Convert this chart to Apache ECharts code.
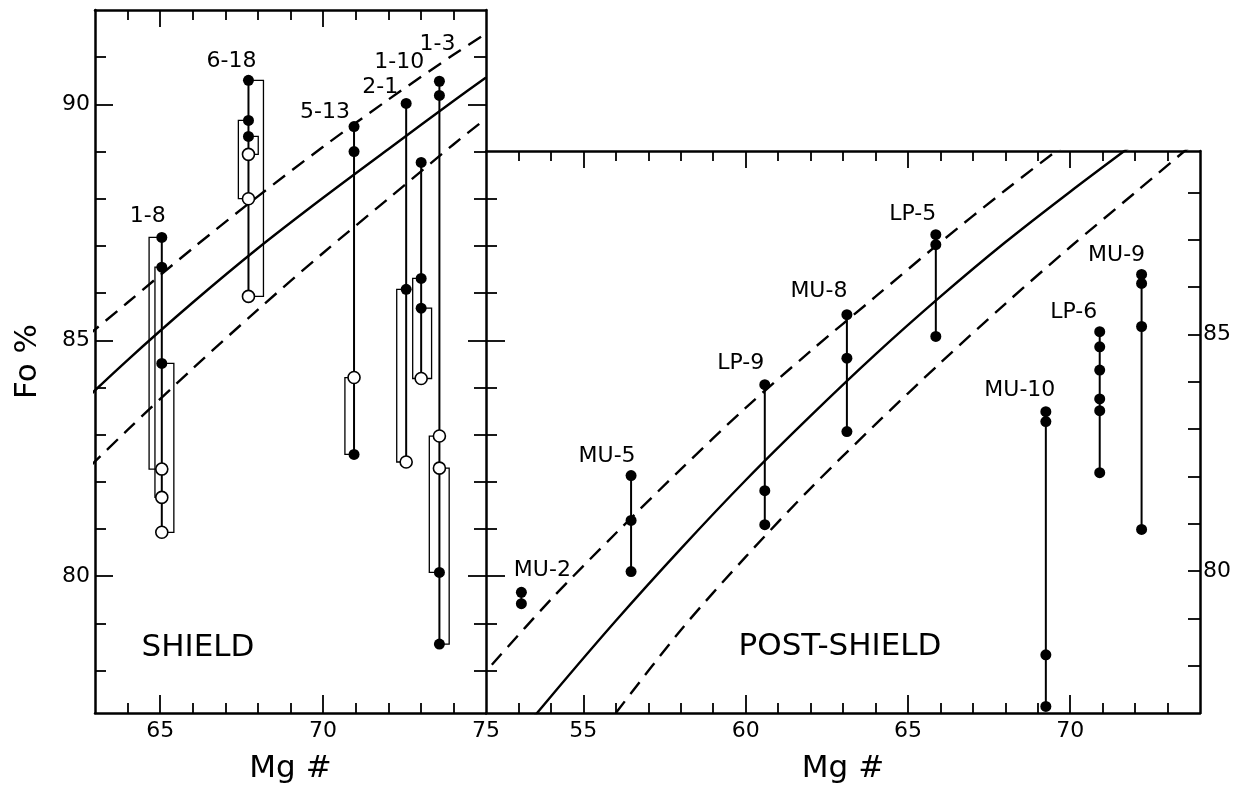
<!DOCTYPE html>
<html>
<head>
<meta charset="utf-8">
<script src="https://cdn.jsdelivr.net/npm/echarts@6/dist/echarts.min.js"></script>
<style>
  html, body { margin: 0; padding: 0; background: #fff; }
  #chart { width: 1243px; height: 788px; }
</style>
</head>
<body>
<div id="chart"></div>
<script>
// ---- Shield-stage lavas: olivine Fo vs host Mg# ----
const shieldSamples = ['1-8', '6-18', '5-13', '2-1', '1-10', '1-3'];
const shieldMg = [65.05, 67.71, 70.95, 72.55, 73.01, 73.57];
// filled symbols (olivine cores)
const shieldFoFilled = [
  [87.18, 86.55, 84.51],
  [90.51, 89.66, 89.32],
  [89.53, 89.00, 82.58],
  [90.02, 86.08],
  [88.77, 86.31, 85.68],
  [90.49, 90.19, 80.08, 78.56]
];
// open symbols (olivine rims)
const shieldFoOpen = [
  [82.27, 81.67, 80.93],
  [88.94, 88.00, 85.93],
  [84.21],
  [82.42],
  [84.19],
  [82.97, 82.29]
];
// core-rim brackets: [Mg# of bracket edge, Fo top, Fo bottom]
const shieldBrackets = [
  [[64.66, 87.18, 82.27], [64.84, 86.55, 81.67], [65.42, 84.51, 80.93]],
  [[67.40, 89.66, 88.00], [68.01, 89.32, 88.94], [68.17, 90.51, 85.93]],
  [[70.67, 84.21, 82.58]],
  [[72.26, 86.08, 82.42]],
  [[72.75, 86.31, 84.19], [73.33, 85.68, 84.19]],
  [[73.26, 82.97, 80.08], [73.87, 82.29, 78.56]]
];

// ---- Post-shield lavas ----
const postSamples = ['MU-2', 'MU-5', 'LP-9', 'MU-8', 'LP-5', 'MU-10', 'LP-6', 'MU-9'];
const postMg = [53.09, 56.47, 60.59, 63.12, 65.86, 69.25, 70.91, 72.20];
const postFo = [
  [79.55, 79.31],
  [82.02, 81.07, 79.99],
  [83.94, 81.70, 80.98],
  [85.42, 84.50, 82.95],
  [87.11, 86.90, 84.96],
  [83.37, 83.16, 78.23, 77.14],
  [85.06, 84.74, 84.25, 83.64, 83.39, 82.08],
  [86.27, 86.08, 85.17, 80.88]
];

// ---- Olivine-liquid equilibrium curve and its upper / lower bounds (shared by both panels) ----
const eqMg = [52, 54, 56, 58, 60, 62, 64, 66, 68, 70, 72, 74, 75];
const eqFo = [75.70, 77.35, 78.95, 80.47, 81.92, 83.28, 84.58, 85.80, 86.95, 88.02, 89.05, 90.07, 90.57];
const upMg = [52.18, 54, 56, 58, 60, 62, 64, 66, 68, 70, 72, 74, 75];
const upFo = [78.02, 79.40, 80.80, 82.15, 83.45, 84.65, 85.80, 86.95, 88.05, 89.10, 90.10, 91.05, 91.50];
const loMg = [56, 58, 60, 62, 64, 66, 68, 70, 72, 74, 75];
const loFo = [77.00, 78.75, 80.30, 81.75, 83.10, 84.40, 85.65, 86.85, 88.00, 89.15, 89.70];

// ---- Axis ticks ----
const shieldMgMajor = [65, 70];
const shieldMgMinor = [64, 66, 67, 68, 69, 71, 72, 73, 74];
const shieldMgLabels = [65, 70, 75];
const shieldFoMajor = [80, 85, 90];
const shieldFoMinor = [78, 79, 81, 82, 83, 84, 86, 87, 88, 89, 91];
const sharedFoMajor = [80, 85];
const sharedFoMinor = [78, 79, 81, 82, 83, 84, 86, 87, 88];
const postMgMajor = [55, 60, 65, 70];
const postMgMinor = [53, 54, 56, 57, 58, 59, 61, 62, 63, 64, 66, 67, 68, 69, 71, 72, 73];
const postFoMajor = [80, 85];
const postFoMinor = [78, 79, 81, 82, 83, 84, 86, 87, 88];

// ---- Styling (label placement relative to the top symbol, in px) ----
const FONT = '"DejaVu Sans", "Liberation Sans", sans-serif';
const labelOffsets = {
  '1-8': [-14, -21], '6-18': [-17, -19], '5-13': [-29, -14], '2-1': [-26, -16],
  '1-10': [-22, -100], '1-3': [-2, -37],
  'MU-2': [21, -22], 'MU-5': [-24, -19], 'LP-9': [-24, -21], 'MU-8': [-28, -23],
  'LP-5': [-23, -20], 'MU-10': [-26, -21], 'LP-6': [-26, -19], 'MU-9': [-25, -19]
};
const stemWidths = { '1-3': 1.3 };
const FRAME_W = 2.5;
const TICK_W = 1.8;

const SH = { min: 63, max: 75, fmin: 77.1, fmax: 92.0 };
const PS = { min: 52, max: 74, fmin: 77.0, fmax: 88.88 };

function axis(grid, pos, min, max, ticks, len, opts) {
  opts = opts || {};
  const a = {
    type: 'value', gridIndex: grid, position: pos, min: min, max: max,
    splitLine: { show: false },
    axisLine: { show: !!opts.line, onZero: false, lineStyle: { color: '#000', width: FRAME_W } },
    axisTick: {
      show: true, inside: !opts.outside, length: len, customValues: ticks,
      lineStyle: { color: '#000', width: TICK_W }
    },
    axisLabel: { show: false }
  };
  if (opts.labels) {
    a.axisLabel = {
      show: true, customValues: opts.labels, margin: opts.margin,
      color: '#000', fontFamily: FONT, fontSize: 22
    };
  }
  if (opts.name) {
    a.name = opts.name;
    a.nameLocation = 'middle';
    a.nameGap = opts.nameGap;
    a.nameRotate = opts.nameRotate || 0;
    a.nameTextStyle = { color: '#000', fontFamily: FONT, fontSize: opts.nameSize };
  }
  return a;
}

const xAxes = [
  // shield panel (grid 0): indices 0..3
  axis(0, 'bottom', SH.min, SH.max, shieldMgMajor, 18,
       { line: true, labels: shieldMgLabels, margin: 7, name: 'Mg #', nameGap: 40, nameSize: 31 }),
  axis(0, 'bottom', SH.min, SH.max, shieldMgMinor, 10),
  axis(0, 'top', SH.min, SH.max, shieldMgMajor, 17, { line: true }),
  axis(0, 'top', SH.min, SH.max, shieldMgMinor, 10),
  // post-shield panel (grid 1): indices 4..7
  axis(1, 'bottom', PS.min, PS.max, postMgMajor, 18,
       { line: true, labels: postMgMajor, margin: 7, name: 'Mg #', nameGap: 40, nameSize: 31 }),
  axis(1, 'bottom', PS.min, PS.max, postMgMinor, 10),
  axis(1, 'top', PS.min, PS.max, postMgMajor, 17, { line: true }),
  axis(1, 'top', PS.min, PS.max, postMgMinor, 10)
];

const yAxes = [
  // shield panel (grid 0): indices 0..5
  axis(0, 'left', SH.fmin, SH.fmax, shieldFoMajor, 18,
       { line: true, labels: shieldFoMajor, margin: 5, name: 'Fo %', nameGap: 52, nameRotate: 90, nameSize: 31 }),
  axis(0, 'left', SH.fmin, SH.fmax, shieldFoMinor, 11),
  axis(0, 'right', SH.fmin, SH.fmax, shieldFoMajor, 18, { line: true }),
  axis(0, 'right', SH.fmin, SH.fmax, shieldFoMinor, 12),
  // shared border: shield Fo scale ticks reaching into the post-shield panel
  axis(0, 'right', SH.fmin, SH.fmax, sharedFoMajor, 19, { outside: true }),
  axis(0, 'right', SH.fmin, SH.fmax, sharedFoMinor, 11, { outside: true }),
  // post-shield panel (grid 1): indices 6..7
  axis(1, 'right', PS.fmin, PS.fmax, postFoMajor, 12,
       { line: true, labels: postFoMajor, margin: 3 }),
  axis(1, 'right', PS.fmin, PS.fmax, postFoMinor, 12)
];
yAxes[6].axisLabel.align = 'left';

function pairs(xs, ys) { return xs.map((x, i) => [x, ys[i]]); }

function stemData(names, mgs, groups) {
  return names.map((n, i) => {
    const all = groups.map(g => g[i]).flat();
    return { name: n, value: [mgs[i], Math.max(...all), Math.min(...all)] };
  });
}

function pointData(mgs, fos) {
  const out = [];
  mgs.forEach((m, i) => fos[i].forEach(f => out.push([m, f])));
  return out;
}

function labelData(names, mgs, groups) {
  return names.map((n, i) => {
    const all = groups.map(g => g[i]).flat();
    return {
      name: n, value: [mgs[i], Math.max(...all)],
      label: { offset: labelOffsets[n] }
    };
  });
}

function bracketData() {
  const out = [];
  shieldBrackets.forEach((list, i) => list.forEach(b => out.push([shieldMg[i], b[0], b[1], b[2]])));
  return out;
}

function renderStem(params, api) {
  const a = api.coord([api.value(0), api.value(1)]);
  const b = api.coord([api.value(0), api.value(2)]);
  const w = stemWidths[params.data && params.data.name] || 2;
  return {
    type: 'line',
    shape: { x1: a[0], y1: a[1], x2: b[0], y2: b[1] },
    style: { stroke: '#000', lineWidth: w }
  };
}

function renderBracket(params, api) {
  const x0 = api.value(0), x1 = api.value(1), top = api.value(2), bot = api.value(3);
  const pts = [api.coord([x0, top]), api.coord([x1, top]), api.coord([x1, bot]), api.coord([x0, bot])];
  return {
    type: 'polyline',
    shape: { points: pts },
    style: { stroke: '#000', lineWidth: 1.3, fill: null }
  };
}

function curve(xi, yi, data, dashed) {
  return {
    type: 'line', xAxisIndex: xi, yAxisIndex: yi, data: data,
    showSymbol: false, symbol: 'none', smooth: 0.3, clip: true, silent: true,
    lineStyle: { color: '#000', width: 2.4, type: dashed ? [15, 9] : 'solid' },
    z: 1
  };
}

const labelStyle = {
  show: true, position: 'inside', formatter: '{b}',
  color: '#000', fontFamily: FONT, fontSize: 22
};

const series = [
  // shield panel
  curve(0, 0, pairs(eqMg, eqFo), false),
  curve(0, 0, pairs(upMg, upFo), true),
  curve(0, 0, pairs(loMg, loFo), true),
  {
    type: 'custom', xAxisIndex: 0, yAxisIndex: 0, renderItem: renderBracket,
    data: bracketData(), encode: { x: [0, 1], y: [2, 3] }, silent: true, z: 2
  },
  {
    type: 'custom', xAxisIndex: 0, yAxisIndex: 0, renderItem: renderStem,
    data: stemData(shieldSamples, shieldMg, [shieldFoFilled, shieldFoOpen]),
    encode: { x: 0, y: [1, 2] }, silent: true, z: 3
  },
  {
    type: 'scatter', xAxisIndex: 0, yAxisIndex: 0, symbol: 'circle', symbolSize: 12,
    itemStyle: { color: '#fff', borderColor: '#000', borderWidth: 1.6, opacity: 1 },
    data: pointData(shieldMg, shieldFoOpen), silent: true, z: 4
  },
  {
    type: 'scatter', xAxisIndex: 0, yAxisIndex: 0, symbol: 'circle', symbolSize: 11,
    itemStyle: { color: '#000', opacity: 1 },
    data: pointData(shieldMg, shieldFoFilled), silent: true, z: 5
  },
  {
    type: 'scatter', xAxisIndex: 0, yAxisIndex: 0, symbolSize: 0,
    itemStyle: { opacity: 1 },
    data: labelData(shieldSamples, shieldMg, [shieldFoFilled, shieldFoOpen]),
    label: labelStyle, silent: true, z: 6
  },
  // post-shield panel
  curve(4, 6, pairs(eqMg, eqFo), false),
  curve(4, 6, pairs(upMg, upFo), true),
  curve(4, 6, pairs(loMg, loFo), true),
  {
    type: 'custom', xAxisIndex: 4, yAxisIndex: 6, renderItem: renderStem,
    data: stemData(postSamples, postMg, [postFo]),
    encode: { x: 0, y: [1, 2] }, silent: true, z: 3
  },
  {
    type: 'scatter', xAxisIndex: 4, yAxisIndex: 6, symbol: 'circle', symbolSize: 11,
    itemStyle: { color: '#000', opacity: 1 },
    data: pointData(postMg, postFo), silent: true, z: 5
  },
  {
    type: 'scatter', xAxisIndex: 4, yAxisIndex: 6, symbolSize: 0,
    itemStyle: { opacity: 1 },
    data: labelData(postSamples, postMg, [postFo]),
    label: labelStyle, silent: true, z: 6
  }
];

const chart = echarts.init(document.getElementById('chart'), null, { renderer: 'canvas' });
chart.setOption({
  animation: false,
  backgroundColor: '#fff',
  grid: [
    { left: 95, top: 10, width: 391, height: 703, outerBoundsMode: 'none', containLabel: false },
    { left: 486, top: 151, width: 714, height: 562, outerBoundsMode: 'none', containLabel: false }
  ],
  xAxis: xAxes,
  yAxis: yAxes,
  graphic: [
    {
      type: 'text', x: 198, y: 648, silent: true,
      style: { text: 'SHIELD', fill: '#000', font: '31px ' + FONT, textAlign: 'center', textVerticalAlign: 'middle' }
    },
    {
      type: 'text', x: 840, y: 647, silent: true,
      style: { text: 'POST-SHIELD', fill: '#000', font: '31px ' + FONT, textAlign: 'center', textVerticalAlign: 'middle' }
    }
  ],
  series: series
});
</script>
</body>
</html>
